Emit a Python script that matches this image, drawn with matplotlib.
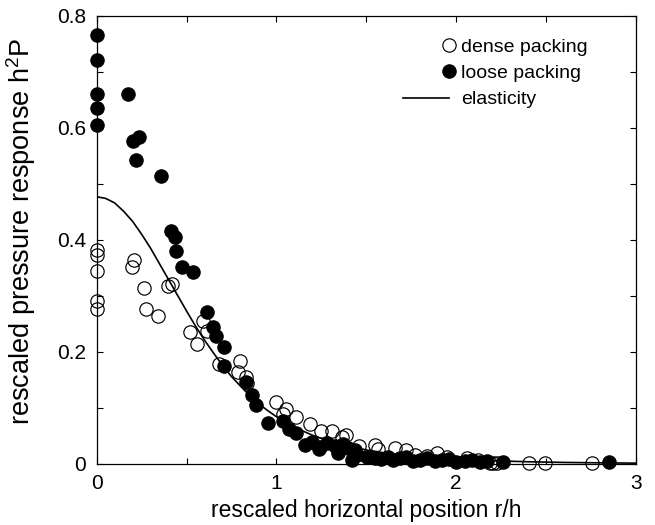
import matplotlib
matplotlib.use("Agg")
import matplotlib.pyplot as plt
from matplotlib.ticker import MultipleLocator
from matplotlib.lines import Line2D
from matplotlib.legend_handler import HandlerLine2D

plt.rcParams['font.family'] = ['Liberation Sans', 'DejaVu Sans']
plt.rcParams['mathtext.fontset'] = 'custom'
plt.rcParams['mathtext.rm'] = 'Liberation Sans'
plt.rcParams['mathtext.it'] = 'Liberation Sans'

dense_x = [0, 0, 0, 0, 0, 0.196, 0.206, 0.261, 0.274, 0.343, 0.395, 0.417, 0.519, 0.556,
           0.593, 0.615, 0.682, 0.797, 0.788, 0.83, 0.834, 0.997, 1.053, 1.038, 1.108,
           1.186, 1.246, 1.31, 1.363, 1.385, 1.459, 1.548, 1.566, 1.659, 1.718, 1.77,
           1.835, 1.891, 1.947, 2.058, 2.122, 2.19, 2.206, 2.225, 2.404, 2.493, 2.753]
dense_y = [0.382, 0.373, 0.345, 0.291, 0.276, 0.351, 0.364, 0.314, 0.276, 0.264, 0.317,
           0.321, 0.236, 0.214, 0.256, 0.237, 0.178, 0.183, 0.165, 0.156, 0.144, 0.111,
           0.099, 0.090, 0.083, 0.071, 0.059, 0.058, 0.049, 0.051, 0.032, 0.034, 0.027,
           0.029, 0.025, 0.016, 0.014, 0.019, 0.012, 0.010, 0.008, 0.002, 0.001, 0.002,
           0.002, 0.001, 0.002]

loose_x = [0, 0, 0, 0, 0, 0.176, 0.20, 0.237, 0.22, 0.356, 0.413, 0.435, 0.441, 0.474,
           0.534, 0.615, 0.649, 0.664, 0.71, 0.71, 0.829, 0.866, 0.884, 0.951, 1.034,
           1.071, 1.108, 1.158, 1.20, 1.242, 1.238, 1.28, 1.325, 1.344, 1.37, 1.40, 1.418,
           1.437, 1.446, 1.505, 1.55, 1.58, 1.62, 1.65, 1.69, 1.72, 1.76, 1.80, 1.84,
           1.88, 1.92, 1.96, 2.00, 2.05, 2.09, 2.13, 2.17, 2.261, 2.849]
loose_y = [0.766, 0.721, 0.661, 0.635, 0.605, 0.661, 0.577, 0.583, 0.542, 0.514, 0.415,
           0.406, 0.380, 0.352, 0.343, 0.272, 0.245, 0.229, 0.208, 0.175, 0.147, 0.123,
           0.105, 0.073, 0.076, 0.062, 0.056, 0.034, 0.040, 0.031, 0.026, 0.038, 0.032,
           0.020, 0.035, 0.028, 0.007, 0.025, 0.016, 0.012, 0.011, 0.009, 0.013, 0.008,
           0.010, 0.012, 0.006, 0.008, 0.010, 0.005, 0.007, 0.009, 0.004, 0.006, 0.007,
           0.004, 0.006, 0.004, 0.003]

elastic_x = [0, 0.05, 0.1, 0.15, 0.2, 0.25, 0.3, 0.35, 0.4, 0.45, 0.5, 0.55, 0.6, 0.65,
             0.7, 0.75, 0.8, 0.85, 0.9, 0.95, 1.0, 1.1, 1.2, 1.3, 1.4, 1.5, 1.6, 1.7,
             1.8, 1.9, 2.0, 2.2, 2.4, 2.6, 2.8, 3.0]
elastic_y = [0.477, 0.474, 0.466, 0.451, 0.433, 0.410, 0.385, 0.357, 0.329, 0.301, 0.273,
             0.246, 0.221, 0.198, 0.176, 0.156, 0.139, 0.1225, 0.108, 0.0956, 0.0844,
             0.0657, 0.0513, 0.0402, 0.0317, 0.0251, 0.0200, 0.0160, 0.0129, 0.0105,
             0.0085, 0.0058, 0.0040, 0.0028, 0.0021, 0.0015]

legend_labels = ['dense packing', 'loose packing', 'elasticity']


class RightMarker(HandlerLine2D):
    """Place the single legend marker at the right end of the handle box."""
    def get_xdata(self, legend, xdescent, ydescent, width, height, fontsize):
        x_end = -xdescent + width
        return [x_end - 0.5, x_end + 0.5], [x_end]


fig = plt.figure(figsize=(6.55, 5.25), dpi=100)
ax = fig.add_axes([0.1476, 0.1162, 0.8234, 0.8538])

ax.plot(elastic_x, elastic_y, color='black', lw=1.2, zorder=2)
ax.plot(dense_x, dense_y, 'o', ms=9.6, mfc='none', mec='black', mew=0.85,
        clip_on=False, zorder=3)
ax.plot(loose_x, loose_y, 'o', ms=9.6, mfc='black', mec='black', mew=0.85,
        clip_on=False, zorder=4)

ax.set_xlim(0, 3)
ax.set_ylim(0, 0.8)
ax.xaxis.set_major_locator(MultipleLocator(1))
ax.xaxis.set_minor_locator(MultipleLocator(0.5))
ax.yaxis.set_major_locator(MultipleLocator(0.2))
ax.yaxis.set_minor_locator(MultipleLocator(0.1))
ax.xaxis.set_major_formatter(plt.FuncFormatter(lambda v, p: f"{v:g}"))
ax.yaxis.set_major_formatter(plt.FuncFormatter(lambda v, p: f"{v:g}"))
ax.tick_params(which='both', direction='in', top=True, right=True, width=0.8,
               labelsize=15, pad=7.5, length=4.5)
for s in ax.spines.values():
    s.set_linewidth(0.9)

ax.set_xlabel('rescaled horizontal position r/h', fontsize=16.5)
ax.xaxis.set_label_coords(0.5, -0.078)
ax.set_ylabel('rescaled pressure response h$^{2}$P', fontsize=19.5)
ax.yaxis.set_label_coords(-0.108, 0.52)

h_dense = Line2D([], [], ls='none', marker='o', ms=9.6, mfc='none', mec='black', mew=0.85)
h_loose = Line2D([], [], ls='none', marker='o', ms=9.6, mfc='black', mec='black', mew=0.85)
h_elast = Line2D([], [], color='black', lw=1.2)
ax.legend([h_dense, h_loose, h_elast], legend_labels, loc='upper left',
          bbox_to_anchor=(403 / 655, 1 - 38 / 525), bbox_transform=fig.transFigure,
          frameon=False, fontsize=14, handlelength=2.37, handletextpad=0.62,
          labelspacing=0.45, borderpad=0, borderaxespad=0,
          handler_map={h_dense: RightMarker(numpoints=1), h_loose: RightMarker(numpoints=1)})

fig.savefig('out.png', dpi=100)
